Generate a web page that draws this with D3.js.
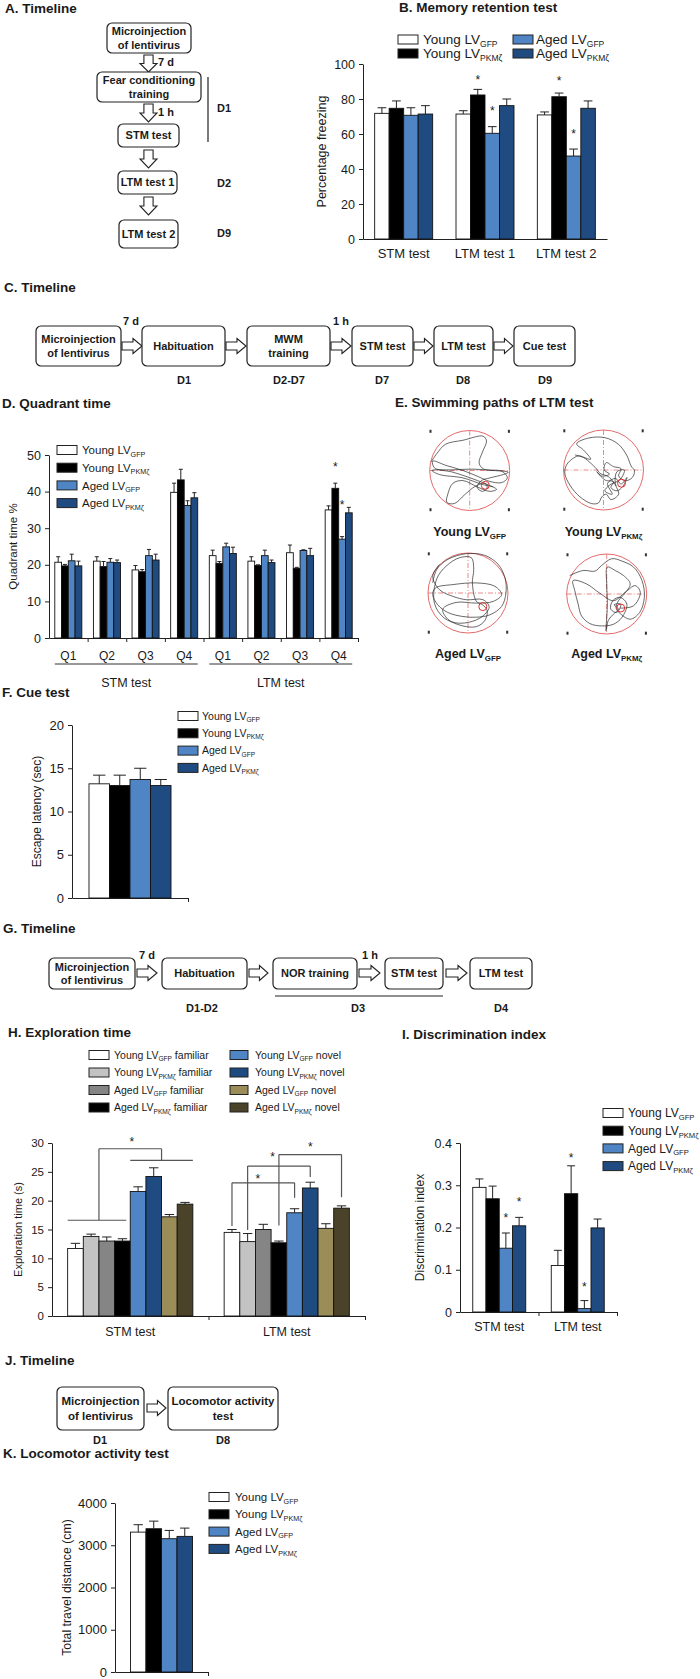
<!DOCTYPE html>
<html><head><meta charset="utf-8">
<script src="https://cdn.jsdelivr.net/npm/d3@7"></script>
<style>
body{margin:0;background:#fff;}
svg{display:block;font-family:"Liberation Sans",Arial,sans-serif;}
text{white-space:pre;}
</style></head><body>
<svg id="fig" width="700" height="1679"></svg>
<script>
// ================= DATA =================
const groupSeries = ["Young LV_GFP","Young LV_PKMζ","Aged LV_GFP","Aged LV_PKMζ"];
const groupColors = ["#ffffff","#000000","#4f85c5","#1f4b80"];

// B. Memory retention test
const memCats = ["STM test","LTM test 1","LTM test 2"];
const memMean = [[71.8,74.7,70.7,71.4],[71.4,82.3,60.4,76.2],[70.9,81.3,47.4,74.7]];
const memErr  = [[3.2,4.2,4.3,4.8],[1.9,3.2,3.8,3.8],[1.7,2.1,4.0,4.2]];
const memStars = [[1,1,92.7],[1,2,74.9],[2,1,92.0],[2,2,61.7]];

// D. Quadrant time
const quadCats = ["Q1","Q2","Q3","Q4","Q1","Q2","Q3","Q4"];
const quadSessions = ["STM test","LTM test"];
const quadMean = [[20.7,19.7,21.1,19.7],[21.0,19.5,20.7,20.6],[18.6,18.1,22.5,21.3],[39.8,43.2,36.2,38.3],
                  [22.5,20.4,24.9,23.1],[21.0,19.8,22.5,20.6],[23.3,19.0,23.9,22.5],[35.0,40.9,27.0,34.2]];
const quadErr  = [[1.5,0.4,1.8,1.3],[1.2,1.4,1.0,0.7],[1.2,0.6,1.7,1.6],[2.5,2.9,1.3,1.4],
                  [1.5,0.5,1.0,1.7],[1.2,0.2,1.5,0.7],[2.1,0.3,0.2,2.0],[1.1,1.4,0.7,1.5]];
const quadStars = [[7,1,47.5],[7,2,37.2]];

// E. Swimming paths (tracker units; pool centre / radius in the same units)
const poolCentreRead = [[810,300],[1210,300],[805,670],[1220,670]];
const poolRadiusRead = 119;
const pathYoungGFP = [[695,275],[712,250],[738,222],[790,210],[850,198],[860,212],[848,245],[838,278],[852,296],[905,302],[922,322],[905,336],[868,332],[835,318],[790,300],[740,285],[700,272],[705,292],[760,305],[820,325],[870,345],[890,356],[870,362],[835,350],[790,330],[760,338],[745,370],[742,395],[765,398],[795,372],[825,348],[855,338],[862,352],[848,362],[832,350],[845,330],[870,322],[910,312],[925,305],[880,300],[820,296],[760,298],[698,300],[720,312],[790,322],[850,342],[880,348]];
const pathYoungPKM = [[1125,255],[1150,262],[1172,268],[1150,240],[1130,222],[1165,205],[1215,204],[1255,224],[1280,258],[1292,288],[1302,302],[1296,322],[1275,332],[1255,318],[1262,296],[1240,290],[1218,278],[1212,300],[1228,312],[1205,318],[1190,305],[1215,330],[1240,335],[1232,352],[1250,362],[1268,348],[1280,322],[1262,342],[1246,325],[1222,340],[1236,372],[1214,362],[1228,345],[1260,328],[1272,300],[1250,305],[1245,340],[1255,372],[1232,388],[1218,372],[1205,380],[1195,398],[1175,400],[1140,380],[1110,345],[1095,310],[1100,285],[1120,265],[1140,258],[1185,292],[1200,310],[1225,320],[1248,348]];
const pathAgedGFP = [[700,640],[712,600],[745,570],[800,553],[855,558],[895,585],[915,625],[918,670],[905,710],[870,735],[830,742],[790,740],[745,728],[715,705],[700,675],[708,655],[760,645],[830,640],[885,650],[905,675],[880,695],[830,700],[770,698],[730,718],[745,748],[790,768],[830,770],[855,752],[862,722],[848,705],[830,695],[818,640],[822,600],[815,565],[780,565],[740,590],[712,628],[705,700],[735,745],[780,760],[840,745],[868,712],[850,690],[800,690],[760,680],[720,660],[700,620],[720,585]];
const pathAgedPKM = [[1110,615],[1150,600],[1185,602],[1205,585],[1235,565],[1265,572],[1300,590],[1325,630],[1332,680],[1318,725],[1290,745],[1262,730],[1248,712],[1255,690],[1272,670],[1290,640],[1270,615],[1245,600],[1222,590],[1220,640],[1222,700],[1220,740],[1218,780],[1225,748],[1240,730],[1255,715],[1242,702],[1262,700],[1250,725],[1232,715],[1238,690],[1260,680],[1280,700],[1265,740],[1240,760],[1205,765],[1170,758],[1145,735],[1135,700],[1125,660],[1120,630],[1160,640],[1200,668],[1240,690],[1275,665],[1305,645],[1320,665],[1300,705],[1260,712]];
const platformPos = [[0.39,0.37],[0.45,0.33],[0.37,0.34],[0.35,0.35]];

// F. Cue test
const cueMean = [13.2,13.0,13.7,13.0];
const cueErr  = [1.0,1.2,1.3,0.7];

// H. Exploration time
const explCats = ["STM test","LTM test"];
const explSeries = ["Young LV_GFP familiar","Young LV_PKMζ familiar","Aged LV_GFP familiar","Aged LV_PKMζ familiar",
                    "Young LV_GFP novel","Young LV_PKMζ novel","Aged LV_GFP novel","Aged LV_PKMζ novel"];
const explColors = ["#ffffff","#c3c3c3","#858585","#000000","#4f85c5","#1f4b80","#9a8d57","#4a4329"];
const explMean = [[11.7,13.8,13.0,13.0,21.6,24.2,17.2,19.4],[14.5,12.9,15.0,12.7,17.9,22.2,15.2,18.7]];
const explErr  = [[0.9,0.4,0.7,0.4,0.8,1.5,0.4,0.3],[0.5,1.4,0.9,0.3,0.7,1.0,0.8,0.4]];
const bracketGroup = [0,1,1,1];
const bracketFrom  = [[0,3],[0,0],[1,1],[3,3]];
const bracketTo    = [[4,7],[4,4],[5,5],[7,7]];
const bracketFromY = [16.6,15.6,14.9,15.7];
const bracketTopY  = [29.0,23.1,26.0,28.0];
const bracketToY   = [27.0,20.5,24.1,20.6];
const bracketStarPos = [4.1,2.15,3.1,5.5];
const bracketStarY   = [30.6,24.2,28.0,29.8];

// I. Discrimination index
const discCats = ["STM test","LTM test"];
const discMean = [[0.295,0.268,0.151,0.204],[0.110,0.280,0.008,0.199]];
const discErr  = [[0.020,0.030,0.036,0.020],[0.036,0.066,0.019,0.021]];
const discStars = [[0,2,0.23],[0,3,0.268],[1,1,0.372],[1,2,0.067]];

// K. Locomotor activity
const locoMean = [3311,3391,3155,3210];
const locoErr  = [175,180,196,196];

// ================= DRAWING =================
const svg = d3.select("#fig");
svg.append("rect").attr("width",700).attr("height",1679).attr("fill","#fff");
const INK = "#1a1a1a";

function subText(sel, label, fs){
  const i = label.indexOf("_");
  if(i<0){ sel.text(label); return sel; }
  const rest = label.slice(i+1);
  const sp = rest.indexOf(" ");
  const sub = sp<0 ? rest : rest.slice(0,sp);
  const after = sp<0 ? "" : rest.slice(sp);
  sel.append("tspan").text(label.slice(0,i));
  sel.append("tspan").attr("font-size",(fs*0.63).toFixed(1)+"px").attr("dy",(fs*0.22).toFixed(1)).text(sub);
  if(after) sel.append("tspan").attr("dy",(-fs*0.22).toFixed(1)).text(after);
  return sel;
}
function T(x,y,str,fs,o={}){
  const t = svg.append("text").attr("x",x).attr("y",y).attr("font-size",fs+"px").attr("fill",o.fill||INK);
  if(o.bold) t.attr("font-weight","bold");
  if(o.anchor) t.attr("text-anchor",o.anchor);
  subText(t,str,fs);
  return t;
}
function box(x0,x1,y0,y1,lines,fs=11,lh=13.3){
  svg.append("rect").attr("x",x0).attr("y",y0).attr("width",x1-x0).attr("height",y1-y0)
    .attr("rx",5).attr("fill","#fff").attr("stroke","#222").attr("stroke-width",1.2);
  const cy=(y0+y1)/2;
  lines.forEach((l,i)=>T((x0+x1)/2, cy+(i-(lines.length-1)/2)*lh+fs*0.36, l, fs, {bold:true,anchor:"middle"}));
}
function arrowR(x0,x1,cy,h=15){
  const hl=Math.min(9,(x1-x0)*0.45), sh=h*0.27;
  const p=[[x0,cy-sh],[x1-hl,cy-sh],[x1-hl,cy-h/2],[x1,cy],[x1-hl,cy+h/2],[x1-hl,cy+sh],[x0,cy+sh]];
  svg.append("polygon").attr("points",p.join(" ")).attr("fill","#fff").attr("stroke","#222").attr("stroke-width",1.1);
}
function arrowD(cx,y0,y1,w=17){
  const hl=Math.min(9,(y1-y0)*0.5), sh=w*0.27;
  const p=[[cx-sh,y0],[cx-sh,y1-hl],[cx-w/2,y1-hl],[cx,y1],[cx+w/2,y1-hl],[cx+sh,y1-hl],[cx+sh,y0]];
  svg.append("polygon").attr("points",p.join(" ")).attr("fill","#fff").attr("stroke","#222").attr("stroke-width",1.1);
}
function line(x1,y1,x2,y2,c="#222",w=1.2){
  return svg.append("line").attr("x1",x1).attr("y1",y1).attr("x2",x2).attr("y2",y2).attr("stroke",c).attr("stroke-width",w);
}
function legend(x,y0,step,items,colors,fs,textGap=6,sw=20,sh=9){
  items.forEach((it,i)=>{
    const cy=y0+i*step;
    svg.append("rect").attr("x",x).attr("y",cy-sh/2).attr("width",sw).attr("height",sh)
      .attr("fill",colors[i]).attr("stroke","#222").attr("stroke-width",1);
    T(x+sw+textGap, cy+fs*0.36, it, fs);
  });
}

function barChart(o){
  const g = svg.append("g");
  const nS = o.means[0].length;
  const y = d3.scaleLinear().domain([0,o.max]).range([o.yBot,o.yTop]);
  const xb = d3.scaleBand().domain(d3.range(o.cats.length)).range([o.x0,o.x1]).paddingInner(o.pad).paddingOuter(o.pad/2);
  const xi = d3.scaleBand().domain(d3.range(nS)).range([0,xb.bandwidth()]);
  const ya = g.append("g").attr("transform",`translate(${o.x0},0)`)
    .call(d3.axisLeft(y).tickValues(d3.range(0,o.max+o.step/2,o.step)).tickSize(4).tickSizeOuter(0).tickPadding(4)
      .tickFormat(o.fmt||d3.format("d")));
  ya.attr("font-family",null).attr("font-size",null);
  ya.selectAll("text").attr("font-size",o.tickFs+"px").attr("fill",INK);
  ya.selectAll("path,line").attr("stroke","#222");
  const xl = d3.scaleLinear().domain([0,o.cats.length]).range([o.x0,o.x1]);
  const xa = g.append("g").attr("transform",`translate(0,${o.yBot})`)
    .call(d3.axisBottom(xl).tickValues(o.xTicks).tickSize(4).tickSizeOuter(0).tickFormat(""));
  xa.selectAll("path,line").attr("stroke","#222");
  const grp = g.selectAll(".grp").data(o.means).join("g").attr("transform",(d,i)=>`translate(${xb(i)},0)`);
  grp.selectAll("rect").data(d=>d).join("rect")
    .attr("x",(d,j)=>xi(j)).attr("y",d=>y(d)).attr("width",xi.bandwidth()).attr("height",d=>o.yBot-y(d))
    .attr("fill",(d,j)=>o.colors[j]).attr("stroke","#111").attr("stroke-width",0.9);
  const bw = xi.bandwidth();
  o.means.forEach((row,i)=>row.forEach((m,j)=>{
    const cx = xb(i)+xi(j)+bw/2, e=o.errs[i][j];
    g.append("line").attr("x1",cx).attr("x2",cx).attr("y1",y(m)).attr("y2",y(m+e)).attr("stroke","#222").attr("stroke-width",1);
    g.append("line").attr("x1",cx-bw*0.3).attr("x2",cx+bw*0.3).attr("y1",y(m+e)).attr("y2",y(m+e)).attr("stroke","#222").attr("stroke-width",1);
  }));
  (o.stars||[]).forEach(([i,j,v])=>{
    const fs=o.starFs||12;
    T(xb(i)+xi(j)+bw/2, y(v)+fs*0.575, "*", fs, {anchor:"middle"});
  });
  if(o.catY) o.cats.forEach((c,i)=>T(xb(i)+xb.bandwidth()/2, o.catY, c, o.catFs, {anchor:"middle"}));
  svg.append("text").attr("transform",`translate(${o.ylX},${(o.yTop+o.yBot)/2}) rotate(-90)`)
    .attr("text-anchor","middle").attr("dy","0.35em").attr("font-size",o.ylFs+"px").attr("fill",INK).text(o.ylabel);
  return {x:xb, xi, y};
}

// ---------- A. Timeline ----------
T(5,13,"A. Timeline",13.5,{bold:true});
box(107,191,23,53,["Microinjection","of lentivirus"]);
arrowD(148.5,55,72); T(158,66,"7 d",11,{bold:true});
box(97,201,72,102,["Fear conditioning","training"]);
arrowD(148.5,104,122); T(158,116,"1 h",11,{bold:true});
box(118,179,124,147,["STM test"]);
line(208,77,208,142);
T(217,112,"D1",11,{bold:true});
arrowD(148.5,150,168);
box(118,177,171,194,["LTM test 1"]);
T(217,187,"D2",11,{bold:true});
arrowD(148.5,197,215);
box(119,178,220,248,["LTM test 2"]);
T(217,237,"D9",11,{bold:true});

// ---------- B. Memory retention ----------
T(399,12,"B. Memory retention test",13.5,{bold:true});
legend(398,39.5,14,groupSeries.slice(0,2),groupColors.slice(0,2),13.5,5);
legend(513,39.5,14,groupSeries.slice(2),groupColors.slice(2),13.5,3);
barChart({x0:363,x1:607,yTop:64,yBot:239,max:100,step:20,cats:memCats,means:memMean,errs:memErr,colors:groupColors,
  pad:0.287,tickFs:12.5,xTicks:[],stars:memStars,catY:258,catFs:13,ylabel:"Percentage freezing",ylX:322,ylFs:12.5});

// ---------- C. Timeline ----------
T(4,292,"C. Timeline",13.5,{bold:true});
box(36,121,326,366,["Microinjection","of lentivirus"]);
arrowR(122,142,346); T(123,325,"7 d",11,{bold:true});
box(142,225,326,366,["Habituation"]);
arrowR(226,246,346);
box(247,330,326,366,["MWM","training"]);
arrowR(331,351,346); T(333,325,"1 h",11,{bold:true});
box(352,413,326,366,["STM test"]);
arrowR(414,433,346);
box(434,493,326,366,["LTM test"]);
arrowR(494,513,346);
box(514,575,326,366,["Cue test"]);
[["D1",184],["D2-D7",289],["D7",382],["D8",463],["D9",545]].forEach(([t,x])=>T(x,384,t,11,{bold:true,anchor:"middle"}));

// ---------- D. Quadrant time ----------
T(2,408,"D. Quadrant time",13.5,{bold:true});
const dch = barChart({x0:49,x1:358,yTop:455,yBot:638,max:50,step:10,cats:quadCats,means:quadMean,errs:quadErr,colors:groupColors,
  pad:0.3,tickFs:12.5,xTicks:d3.range(1,9),stars:quadStars,catY:660,catFs:12,ylabel:"Quadrant time %",ylX:13,ylFs:11.5});
legend(57,450,17.7,groupSeries,groupColors,11.5,5);
quadSessions.forEach((s,k)=>{
  const xa = dch.x(k*4), xbE = dch.x(k*4+3)+dch.x.bandwidth();
  line(xa,664,xbE,664,"#333",1.2);
  T((xa+xbE)/2,687,s,12.5,{anchor:"middle"});
});

// ---------- E. Swimming paths ----------
T(395,407,"E. Swimming paths of LTM test",13.5,{bold:true});
const pools = [[469.7,470.5],[603.5,470],[468,593],[606.7,594]];
const swimPaths = [pathYoungGFP,pathYoungPKM,pathAgedGFP,pathAgedPKM];
const POOL = "#e46a6a";
pools.forEach(([cx,cy],k)=>{
  const r=40;
  const sx=d3.scaleLinear().domain([-1,1]).range([cx-r,cx+r]);
  const sy=d3.scaleLinear().domain([-1,1]).range([cy-r,cy+r]);
  const [rx,ry]=poolCentreRead[k];
  const tx=d3.scaleLinear().domain([rx-poolRadiusRead,rx+poolRadiusRead]).range([cx-r,cx+r]);
  const ty=d3.scaleLinear().domain([ry-poolRadiusRead,ry+poolRadiusRead]).range([cy-r,cy+r]);
  svg.append("circle").attr("cx",cx).attr("cy",cy).attr("r",r).attr("fill","none").attr("stroke",POOL).attr("stroke-width",1);
  line(cx,sy(-1),cx,sy(1),POOL,0.8).attr("stroke-dasharray","5,2,1,2");
  line(sx(-1),cy,sx(1),cy,POOL,0.8).attr("stroke-dasharray","5,2,1,2");
  [[-1,-1],[1,-1],[-1,1],[1,1]].forEach(([a,b])=>svg.append("rect").attr("x",sx(a*0.98)-1).attr("y",sy(b*0.98)-1.5).attr("width",2).attr("height",3).attr("fill","#333"));
  svg.append("path").attr("d",d3.line().x(d=>tx(d[0])).y(d=>ty(d[1])).curve(d3.curveCatmullRom.alpha(0.5))(swimPaths[k]))
    .attr("fill","none").attr("stroke","#2a2a2a").attr("stroke-width",0.7);
  svg.append("circle").attr("cx",sx(platformPos[k][0])).attr("cy",sy(platformPos[k][1])).attr("r",4).attr("fill","none").attr("stroke","#e03030").attr("stroke-width",1);
  T(cx, k<2?536:658, groupSeries[k], 12.5, {bold:true,anchor:"middle"});
});

// ---------- F. Cue test ----------
T(2,697,"F. Cue test",13.5,{bold:true});
barChart({x0:72,x1:188,yTop:725,yBot:898,max:20,step:5,cats:["Cue"],means:[cueMean],errs:[cueErr],colors:groupColors,
  pad:0.293,tickFs:13,xTicks:[1],catY:null,ylabel:"Escape latency (sec)",ylX:37,ylFs:12});
legend(178,716,17.3,groupSeries,groupColors,10.5,4);

// ---------- G. Timeline ----------
T(3,933,"G. Timeline",13.5,{bold:true});
box(49,135,958,989,["Microinjection","of lentivirus"]);
arrowR(137,157,973); T(139,959,"7 d",11,{bold:true});
box(162,247,958,989,["Habituation"]);
arrowR(249,268,973);
box(273,357,958,989,["NOR training"]);
arrowR(359,380,973); T(362,959,"1 h",11,{bold:true});
box(385,443,958,989,["STM test"]);
arrowR(446,467,973);
box(470,532,958,989,["LTM test"]);
line(275,996,443,996);
[["D1-D2",202],["D3",358],["D4",501]].forEach(([t,x])=>T(x,1012,t,11,{bold:true,anchor:"middle"}));

// ---------- H. Exploration time ----------
T(8,1037,"H. Exploration time",13.5,{bold:true});
legend(89,1055,17.5,explSeries.slice(0,4),explColors.slice(0,4),10.5,5);
legend(230,1055,17.5,explSeries.slice(4),explColors.slice(4),10.5,7,18);
const hch = barChart({x0:52,x1:365,yTop:1143,yBot:1316,max:30,step:5,cats:explCats,means:explMean,errs:explErr,colors:explColors,
  pad:0.2,tickFs:11.5,xTicks:[1,2],catY:1336,catFs:12.5,ylabel:"Exploration time (s)",ylX:18,ylFs:11});
bracketGroup.forEach((gi,k)=>{
  const st = hch.xi.step(), base = hch.x(gi), y = hch.y;
  const [a0,a1] = bracketFrom[k], [b0,b1] = bracketTo[k];
  const xa = base+st*(a0+a1+1)/2, xbp = base+st*(b0+b1+1)/2;
  const c="#555";
  if(a1>a0) line(base+st*a0, y(bracketFromY[k]), base+st*(a1+1)-4, y(bracketFromY[k]), c, 1.2);
  if(b1>b0) line(base+st*b0, y(bracketToY[k]), base+st*(b1+1), y(bracketToY[k]), c, 1.2);
  line(xa, y(bracketFromY[k]), xa, y(bracketTopY[k]), c, 1.2);
  line(xa, y(bracketTopY[k]), xbp, y(bracketTopY[k]), c, 1.2);
  line(xbp, y(bracketTopY[k]), xbp, y(bracketToY[k]), c, 1.2);
  T(base+st*bracketStarPos[k], y(bracketStarY[k])+12*0.575, "*", 12, {anchor:"middle"});
});

// ---------- I. Discrimination index ----------
T(402,1039,"I. Discrimination index",13.5,{bold:true});
legend(603,1113,17.7,groupSeries,groupColors,12,5);
barChart({x0:460,x1:617,yTop:1143,yBot:1312,max:0.4,step:0.1,fmt:d=>d===0?"0":d3.format(".1f")(d),cats:discCats,means:discMean,errs:discErr,
  colors:groupColors,pad:0.325,tickFs:12.5,xTicks:[1,2],stars:discStars,catY:1331,catFs:12.5,ylabel:"Discrimination index",ylX:420,ylFs:12});

// ---------- J. Timeline ----------
T(5,1365,"J. Timeline",13.5,{bold:true});
box(57,144,1387,1430,["Microinjection","of lentivirus"],11.5,14.5);
arrowR(147,166,1408);
box(168,278,1387,1430,["Locomotor activity","test"],11.5,14.5);
[["D1",100],["D8",223]].forEach(([t,x])=>T(x,1444,t,11,{bold:true,anchor:"middle"}));

// ---------- K. Locomotor activity ----------
T(3,1458,"K. Locomotor activity test",13.5,{bold:true});
barChart({x0:115,x1:208,yTop:1503,yBot:1672,max:4000,step:1000,cats:["Loco"],means:[locoMean],errs:[locoErr],colors:groupColors,
  pad:0.333,tickFs:13,xTicks:[1],catY:null,ylabel:"Total travel distance (cm)",ylX:67,ylFs:12.3});
legend(209,1497,17.3,groupSeries,groupColors,11.5,6);
</script>
</body></html>
